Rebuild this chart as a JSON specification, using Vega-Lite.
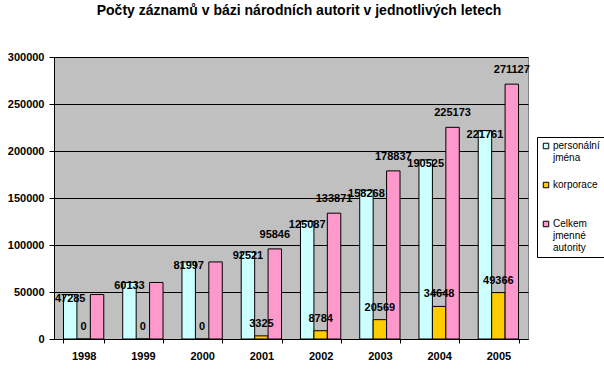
{
  "$schema": "https://vega.github.io/schema/vega-lite/v6.json",
  "width": 474,
  "height": 282,
  "autosize": {"type": "none"},
  "padding": {"left": 54, "top": 57, "right": 76, "bottom": 33},
  "background": "white",
  "title": {
    "text": "Počty záznamů v bázi národních autorit v jednotlivých letech",
    "font": "Liberation Sans",
    "fontSize": 14,
    "fontWeight": "bold",
    "color": "black",
    "anchor": "middle",
    "dx": 8,
    "offset": 33
  },
  "data": {
    "values": [
      {"year": "1998", "series": "personální jména", "value": 47285},
      {"year": "1999", "series": "personální jména", "value": 60133},
      {"year": "2000", "series": "personální jména", "value": 81997},
      {"year": "2001", "series": "personální jména", "value": 92521},
      {"year": "2002", "series": "personální jména", "value": 125087},
      {"year": "2003", "series": "personální jména", "value": 158268},
      {"year": "2004", "series": "personální jména", "value": 190525},
      {"year": "2005", "series": "personální jména", "value": 221761},
      {"year": "1998", "series": "korporace", "value": 0},
      {"year": "1999", "series": "korporace", "value": 0},
      {"year": "2000", "series": "korporace", "value": 0},
      {"year": "2001", "series": "korporace", "value": 3325},
      {"year": "2002", "series": "korporace", "value": 8784},
      {"year": "2003", "series": "korporace", "value": 20569},
      {"year": "2004", "series": "korporace", "value": 34648},
      {"year": "2005", "series": "korporace", "value": 49366},
      {"year": "1998", "series": "Celkem jmenné autority", "value": 47285},
      {"year": "1999", "series": "Celkem jmenné autority", "value": 60133},
      {"year": "2000", "series": "Celkem jmenné autority", "value": 81997},
      {"year": "2001", "series": "Celkem jmenné autority", "value": 95846},
      {"year": "2002", "series": "Celkem jmenné autority", "value": 133871},
      {"year": "2003", "series": "Celkem jmenné autority", "value": 178837},
      {"year": "2004", "series": "Celkem jmenné autority", "value": 225173},
      {"year": "2005", "series": "Celkem jmenné autority", "value": 271127}
    ]
  },
  "encoding": {
    "x": {
      "field": "year",
      "type": "ordinal",
      "scale": {"paddingInner": 0.32, "paddingOuter": 0.16},
      "axis": {
        "title": null,
        "labelAngle": 0,
        "labelFont": "Liberation Sans",
        "labelFontSize": 11,
        "labelFontWeight": "bold",
        "labelColor": "black",
        "labelPadding": 7,
        "tickBand": "extent",
        "tickSize": 4,
        "tickColor": "black",
        "domainColor": "black",
        "grid": false
      }
    },
    "xOffset": {
      "field": "series",
      "type": "nominal",
      "sort": ["personální jména", "korporace", "Celkem jmenné autority"]
    },
    "y": {
      "field": "value",
      "type": "quantitative",
      "scale": {"domain": [0, 300000], "nice": false},
      "axis": {
        "title": null,
        "values": [0, 50000, 100000, 150000, 200000, 250000, 300000],
        "format": "d",
        "labelFont": "Liberation Sans",
        "labelFontSize": 11,
        "labelFontWeight": "bold",
        "labelColor": "black",
        "labelPadding": 5,
        "tickSize": 5,
        "tickColor": "black",
        "domainColor": "black",
        "grid": true,
        "gridColor": "black",
        "gridOpacity": 1,
        "gridWidth": 1
      }
    }
  },
  "layer": [
    {
      "mark": {"type": "bar", "stroke": "black", "strokeWidth": 1, "opacity": 1},
      "encoding": {
        "color": {
          "field": "series",
          "type": "nominal",
          "scale": {
            "domain": ["personální jména", "korporace", "Celkem jmenné autority"],
            "range": ["#CCFFFF", "#FFCC00", "#FF99CC"]
          },
          "legend": {
            "orient": "none",
            "legendX": 483,
            "legendY": 80,
            "direction": "vertical",
            "title": null,
            "labelExpr": "split(datum.label, ' ')",
            "labelFont": "Liberation Sans",
            "labelFontSize": 10,
            "labelColor": "black",
            "labelBaseline": "middle",
            "labelOffset": 2,
            "labelLimit": 200,
            "symbolType": "square",
            "symbolSize": 30,
            "symbolStrokeColor": "black",
            "symbolStrokeWidth": 1,
            "symbolOpacity": 1,
            "strokeColor": "black",
            "fillColor": "white",
            "padding": 4,
            "gridAlign": "all",
            "rowPadding": 5
          }
        }
      }
    },
    {
      "transform": [{"filter": "datum.series == 'personální jména'"}],
      "mark": {"type": "text", "font": "Liberation Sans", "fontSize": 11, "fontWeight": "bold", "color": "black", "baseline": "middle", "dy": 4},
      "encoding": {"text": {"field": "value", "type": "quantitative", "format": "d"}}
    },
    {
      "transform": [{"filter": "datum.series == 'korporace'"}],
      "mark": {"type": "text", "font": "Liberation Sans", "fontSize": 11, "fontWeight": "bold", "color": "black", "baseline": "middle", "dy": -12},
      "encoding": {"text": {"field": "value", "type": "quantitative", "format": "d"}}
    },
    {
      "transform": [{"filter": "datum.series == 'Celkem jmenné autority' && datum.year >= '2001'"}],
      "mark": {"type": "text", "font": "Liberation Sans", "fontSize": 11, "fontWeight": "bold", "color": "black", "baseline": "middle", "dy": -14},
      "encoding": {"text": {"field": "value", "type": "quantitative", "format": "d"}}
    }
  ],
  "config": {
    "view": {"fill": "#C0C0C0", "stroke": "#808080", "strokeWidth": 1}
  }
}
